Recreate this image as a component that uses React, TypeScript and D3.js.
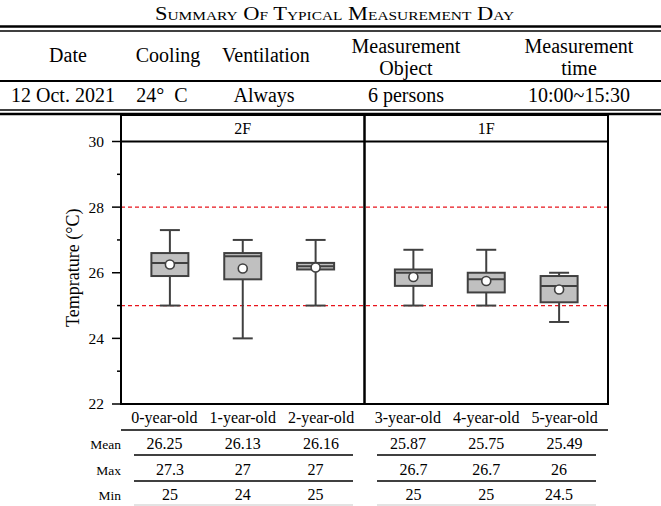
import React from 'react';
import * as d3 from 'd3';

// Summary table above the chart
const titleText = 'Summary of typical measurement day';
const headerLabels = [['Date'], ['Cooling'], ['Ventilation'], ['Measurement', 'Object'], ['Measurement', 'time']];
const headerValues = ['12 Oct. 2021', '24°\u00A0\u00A0C', 'Always', '6 persons', '10:00~15:30'];
const headerCenters = [68, 168, 266, 406, 579];
const valueCenters = [63, 162, 264, 406, 579];

// Box plot data (°C)
const floors = ['2F', '1F'];
const categories = ['0-year-old', '1-year-old', '2-year-old', '3-year-old', '4-year-old', '5-year-old'];
const floorOf = ['2F', '2F', '2F', '1F', '1F', '1F'];
const q1 = [25.9, 25.8, 26.1, 25.6, 25.4, 25.1];
const medians = [26.3, 26.5, 26.2, 26.0, 25.8, 25.6];
const q3 = [26.6, 26.6, 26.3, 26.1, 26.0, 25.9];
const means = [26.25, 26.13, 26.16, 25.87, 25.75, 25.49];
const maxs = [27.3, 27, 27, 26.7, 26.7, 26];
const mins = [25, 24, 25, 25, 25, 24.5];

const yMajorTicks = [22, 24, 26, 28, 30];
const yMinorTicks = [23, 25, 27, 29];
const refLines = [28, 25];
const statLabels = ['Mean', 'Max', 'Min'];

const W = 661;
const H = 506;
const plotLeft = 121;
const plotRight = 608;
const stripTop = 115;
const plotTop = 141.5;
const plotBottom = 404;
const serif = '"Liberation Serif", serif';
const dark = '#404040';

export default function App() {
  const y = d3.scaleLinear().domain([22, 30]).range([plotBottom, plotTop]);
  const panel = d3.scaleBand<string>().domain(floors).range([plotLeft, plotRight]).padding(0);
  const catsOf = (f: string) => categories.filter((_, i) => floorOf[i] === f);
  const boxX = (i: number) => {
    const f = floorOf[i];
    const p = d3.scalePoint<string>().domain(catsOf(f)).range([panel(f)!, panel(f)! + panel.bandwidth()]).padding(0.671);
    return p(categories[i])!;
  };
  const labelX = (i: number) => {
    const f = floorOf[i];
    const p = d3.scalePoint<string>().domain(catsOf(f)).range([panel(f)!, panel(f)! + panel.bandwidth()]).padding(0.554);
    return p(categories[i])!;
  };
  const boxW = 37;
  const capW = 20;

  const statRows = [
    { label: statLabels[0], values: means.map((v) => v.toFixed(2)), xs: categories.map((_, i) => labelX(i)), y: 449 },
    { label: statLabels[1], values: maxs.map((v) => String(v)), xs: categories.map((_, i) => boxX(i)), y: 475 },
    { label: statLabels[2], values: mins.map((v) => String(v)), xs: categories.map((_, i) => boxX(i)), y: 500 },
  ];
  const statLineYs = [455, 481];
  const statSegments = [[134, 353], [377, 596]];

  return (
    <div style={{ position: 'absolute', left: 0, top: 0 }}>
      <svg width={W} height={H} viewBox={`0 0 ${W} ${H}`} style={{ display: 'block', background: '#fff' }}>
        {/* title and summary table */}
        <text x={334.5} y={20} textAnchor="middle" fontFamily={serif} fontSize={19}
          style={{ fontVariant: 'small-caps' }} textLength={359} lengthAdjust="spacingAndGlyphs">
          {titleText.toUpperCase().split(' ').map((w) => w[0] + w.slice(1).toLowerCase()).join(' ')}
        </text>
        <line x1={0} x2={W} y1={26.5} y2={26.5} stroke="#000" strokeWidth={2.5} />
        <line x1={0} x2={W} y1={31} y2={31} stroke="#000" strokeWidth={1.6} />
        {headerLabels.map((lines, i) =>
          lines.length === 1 ? (
            <text key={i} x={headerCenters[i]} y={62} textAnchor="middle" fontFamily={serif} fontSize={20}>{lines[0]}</text>
          ) : (
            <g key={i}>
              <text x={headerCenters[i]} y={53} textAnchor="middle" fontFamily={serif} fontSize={20}>{lines[0]}</text>
              <text x={headerCenters[i]} y={75} textAnchor="middle" fontFamily={serif} fontSize={20}>{lines[1]}</text>
            </g>
          )
        )}
        <line x1={0} x2={W} y1={81} y2={81} stroke="#000" strokeWidth={2} />
        {headerValues.map((v, i) => (
          <text key={i} x={valueCenters[i]} y={102} textAnchor="middle" fontFamily={serif} fontSize={20}>{v}</text>
        ))}
        <line x1={0} x2={W} y1={110} y2={110} stroke="#000" strokeWidth={1.6} />
        <line x1={0} x2={W} y1={114} y2={114} stroke="#000" strokeWidth={2.5} />

        {/* reference lines */}
        {refLines.map((v) => (
          <line key={v} x1={plotLeft} x2={plotRight} y1={y(v)} y2={y(v)} stroke="#e8141c" strokeWidth={1.3} strokeDasharray="4,3" />
        ))}

        {/* boxes */}
        {categories.map((c, i) => {
          const cx = boxX(i);
          return (
            <g key={c} stroke={dark} strokeWidth={2}>
              <line x1={cx} x2={cx} y1={y(maxs[i])} y2={y(q3[i])} />
              <line x1={cx} x2={cx} y1={y(q1[i])} y2={y(mins[i])} />
              <line x1={cx - capW / 2} x2={cx + capW / 2} y1={y(maxs[i])} y2={y(maxs[i])} />
              <line x1={cx - capW / 2} x2={cx + capW / 2} y1={y(mins[i])} y2={y(mins[i])} />
              <rect x={cx - boxW / 2} y={y(q3[i])} width={boxW} height={y(q1[i]) - y(q3[i])} fill="#c0c0c0" />
              <line x1={cx - boxW / 2} x2={cx + boxW / 2} y1={y(medians[i])} y2={y(medians[i])} />
              <circle cx={cx} cy={y(means[i])} r={4.5} fill="#fff" strokeWidth={1.6} />
            </g>
          );
        })}

        {/* panels and strips */}
        {floors.map((f) => (
          <g key={f}>
            <rect x={panel(f)} y={stripTop} width={panel.bandwidth()} height={plotBottom - stripTop} fill="none" stroke="#000" strokeWidth={2} />
            <line x1={panel(f)} x2={panel(f)! + panel.bandwidth()} y1={plotTop} y2={plotTop} stroke="#000" strokeWidth={2} />
            <text x={panel(f)! + panel.bandwidth() / 2} y={134} textAnchor="middle" fontFamily={serif} fontSize={16}>{f}</text>
          </g>
        ))}

        {/* y axis */}
        {yMajorTicks.map((t) => (
          <g key={t}>
            <line x1={plotLeft - 9} x2={plotLeft} y1={y(t)} y2={y(t)} stroke="#000" strokeWidth={1.5} />
            <text x={104} y={y(t)} dy="0.35em" textAnchor="end" fontFamily={serif} fontSize={15.5}>{t}</text>
          </g>
        ))}
        {yMinorTicks.map((t) => (
          <line key={t} x1={plotLeft - 4} x2={plotLeft} y1={y(t)} y2={y(t)} stroke="#000" strokeWidth={1.5} />
        ))}
        <text transform={`translate(79, ${(y(22) + y(30)) / 2 - 5}) rotate(-90)`} textAnchor="middle" fontFamily={serif} fontSize={18}>
          Temprature (°C)
        </text>

        {/* category labels */}
        {categories.map((c, i) => (
          <text key={c} x={labelX(i)} y={423} textAnchor="middle" fontFamily={serif} fontSize={16}>{c}</text>
        ))}
        <line x1={plotLeft} x2={plotRight} y1={430} y2={430} stroke="#000" strokeWidth={1.6} />

        {/* statistics rows */}
        {statRows.map((row) => (
          <g key={row.label}>
            <text x={121} y={row.y} textAnchor="end" fontFamily={serif} fontSize={13.5}>{row.label}</text>
            {row.values.map((v, i) => (
              <text key={i} x={row.xs[i]} y={row.y} textAnchor="middle" fontFamily={serif} fontSize={16}>{v}</text>
            ))}
          </g>
        ))}
        {statLineYs.map((ly) =>
          statSegments.map(([a, b]) => (
            <line key={`${ly}-${a}`} x1={a} x2={b} y1={ly} y2={ly} stroke="#000" strokeWidth={1.6} />
          ))
        )}
        {statSegments.map(([a, b]) => (
          <line key={`g-${a}`} x1={a} x2={b} y1={505} y2={505} stroke="#c8c8c8" strokeWidth={1.2} />
        ))}
      </svg>
    </div>
  );
}
